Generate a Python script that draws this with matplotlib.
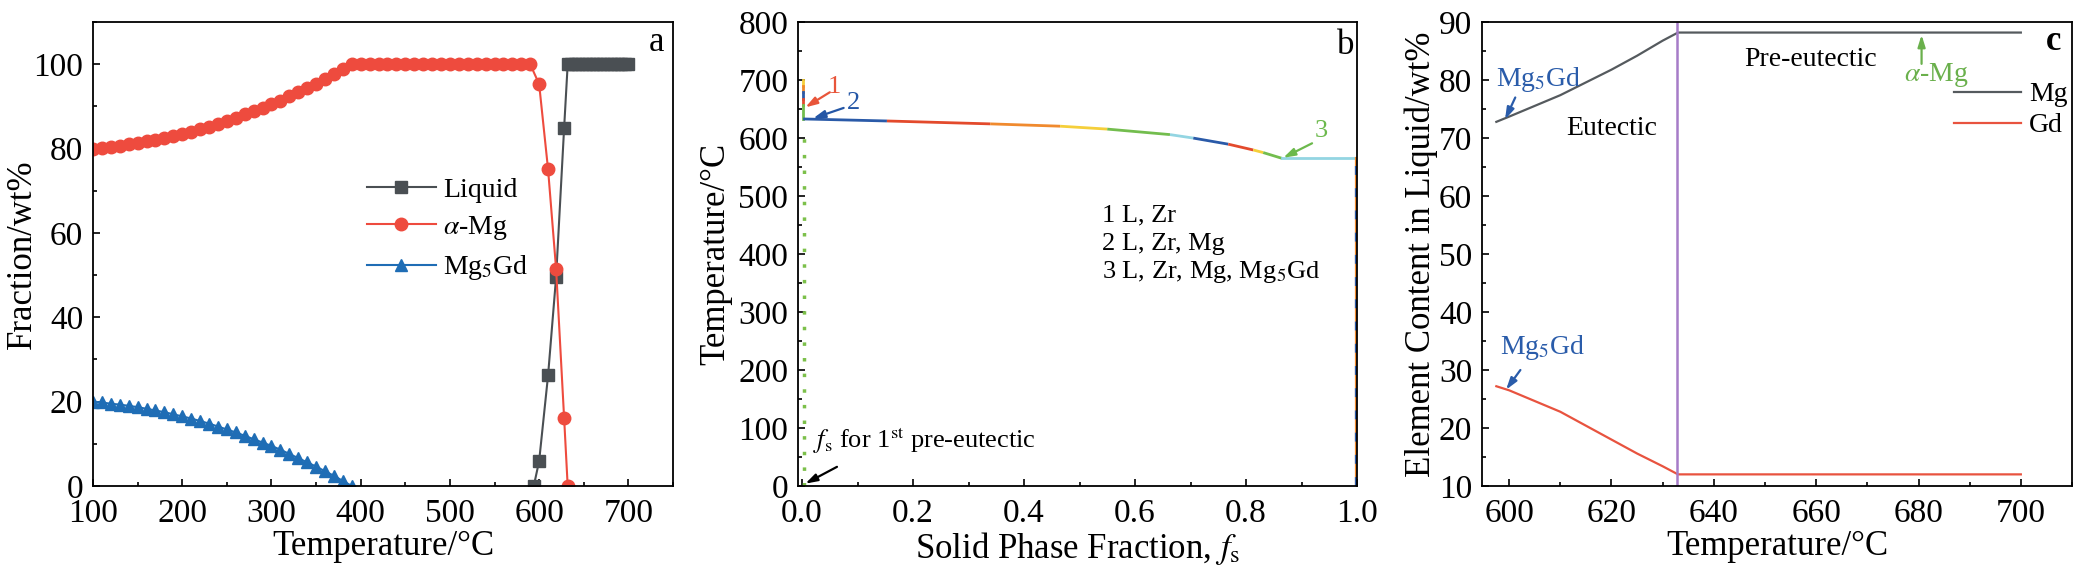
import matplotlib
matplotlib.use('Agg')
import matplotlib.pyplot as plt
from matplotlib.ticker import MultipleLocator

plt.rcParams['font.family'] = ['Liberation Serif', 'DejaVu Serif']
plt.rcParams['mathtext.fontset'] = 'stix'
plt.rcParams['axes.linewidth'] = 1.3

# ---- panel a: phase fractions vs temperature ----
liquid_T = [594, 600, 610, 619, 628, 632, 636, 640, 644, 648, 652, 656, 660, 664,
            668, 672, 676, 680, 684, 688, 692, 696, 700]
liquid_frac = [0, 5.9, 26.2, 49.5, 84.9, 100, 100, 100, 100, 100, 100, 100, 100, 100,
               100, 100, 100, 100, 100, 100, 100, 100, 100]

alpha_T = [100, 110, 120, 130, 140, 150, 160, 170, 180, 190, 200, 210, 220, 230, 240,
           250, 260, 270, 280, 290, 300, 310, 320, 330, 340, 350, 360, 370, 380, 390,
           400, 410, 420, 430, 440, 450, 460, 470, 480, 490, 500, 510, 520, 530, 540,
           550, 560, 570, 580, 590, 600, 610, 619, 628, 632]
alpha_frac = [80.0, 80.2, 80.5, 80.7, 81.0, 81.3, 81.7, 82.1, 82.5, 83.0, 83.5, 84.0,
              84.6, 85.2, 85.9, 86.6, 87.3, 88.1, 88.9, 89.7, 90.5, 91.4, 92.4, 93.4,
              94.4, 95.4, 96.5, 97.6, 98.8, 100, 100, 100, 100, 100, 100, 100, 100, 100,
              100, 100, 100, 100, 100, 100, 100, 100, 100, 100, 100, 100, 95.3, 75.1,
              51.5, 16.1, 0.0]

mg5gd_T = [100, 110, 120, 130, 140, 150, 160, 170, 180, 190, 200, 210, 220, 230, 240,
           250, 260, 270, 280, 290, 300, 310, 320, 330, 340, 350, 360, 370, 380, 390]
mg5gd_frac = [20.0, 19.8, 19.5, 19.3, 19.0, 18.7, 18.3, 17.9, 17.5, 17.0, 16.5, 16.0,
              15.4, 14.8, 14.1, 13.4, 12.7, 11.9, 11.1, 10.3, 9.5, 8.6, 7.6, 6.6, 5.6,
              4.6, 3.5, 2.4, 1.2, 0.0]

# ---- panel b: Scheil solidification path ----
start_T = [700, 690, 680, 668, 657, 633]
start_colors = ['#f5cf3a', '#f08a2e', '#2a5aa8', '#e34a2c', '#73bd4e']
path_fs = [0.002, 0.153, 0.339, 0.465, 0.55, 0.663, 0.705, 0.768, 0.813, 0.831, 0.865]
path_T = [633, 629.5, 624.5, 620.5, 615.5, 606, 600, 589.5, 579.5, 575, 565]
path_colors = ['#2a5aa8', '#e34a2c', '#f08a2e', '#f5cf3a', '#73bd4e', '#93d5e2',
               '#2a5aa8', '#e34a2c', '#f5cf3a', '#73bd4e']
eutectic_T = 565
first_fs_top = 605
phase_lines = ['1 L, Zr', '2 L, Zr, Mg', '3 L, Zr, Mg, Mg$_5$Gd']
phase_line_T = [467, 418, 369.5]

# ---- panel c: liquid composition ----
comp_T = [597.5, 600, 610, 620, 625, 630, 633, 700]
mg_wt = [72.8, 73.7, 77.4, 81.8, 84.2, 86.8, 88.2, 88.2]
gd_wt = [27.2, 26.5, 22.8, 18.0, 15.6, 13.4, 12.0, 12.0]
eutectic_start = 632.8

fig = plt.figure(figsize=(20.78, 5.82), dpi=100)
ax_a = fig.add_axes([0.04475, 0.165, 0.27911, 0.797])
ax_b = fig.add_axes([0.38403, 0.165, 0.26901, 0.797])
ax_c = fig.add_axes([0.71319, 0.165, 0.28393, 0.797])


def style(ax, xmaj, xmin, ymaj, ymin):
    ax.xaxis.set_major_locator(MultipleLocator(xmaj))
    ax.xaxis.set_minor_locator(MultipleLocator(xmin))
    ax.yaxis.set_major_locator(MultipleLocator(ymaj))
    ax.yaxis.set_minor_locator(MultipleLocator(ymin))
    ax.tick_params(which='both', direction='in', top=False, right=False,
                   labelsize=24, width=1.2)
    ax.tick_params(axis='x', which='both', pad=9)
    ax.tick_params(axis='y', which='both', pad=7)
    ax.tick_params(which='major', length=5)
    ax.tick_params(which='minor', length=3)


def arrow(ax, tail, head, color):
    ax.annotate('', xy=head, xytext=tail,
                arrowprops=dict(arrowstyle='-|>,head_length=0.7,head_width=0.22',
                                color=color, lw=1.6, shrinkA=0, shrinkB=0))


# panel a
ax_a.plot(liquid_T, liquid_frac, color='#4a4f53', marker='s', ms=8, lw=1.5, label='Liquid')
ax_a.plot(alpha_T, alpha_frac, color='#ee4b3e', marker='o', ms=9, lw=1.5, label=r'$\alpha$-Mg')
ax_a.plot(mg5gd_T, mg5gd_frac, color='#1f6db5', marker='^', ms=9, lw=1.5, label='Mg$_5$Gd')
ax_a.set_xlim(100, 750)
ax_a.set_ylim(0, 110)
style(ax_a, 100, 50, 20, 10)
ax_a.set_xlabel('Temperature/°C', fontsize=25, labelpad=1)
ax_a.set_ylabel('Fraction/wt%', fontsize=25, labelpad=-4)
ax_a.legend(loc='center left', bbox_to_anchor=(0.472, 0.552), frameon=False, fontsize=20,
            handlelength=2.5, handletextpad=0.25, labelspacing=0.4, borderpad=0,
            borderaxespad=0)
ax_a.text(0.972, 0.955, 'a', transform=ax_a.transAxes, fontsize=25, ha='center', va='center')

# panel b
ax_b.plot([0.003, 0.003], [0, first_fs_top], color='#7cc04a', lw=2.5,
          linestyle=(0, (1, 3.5)))
for i in range(len(start_colors)):
    ax_b.plot([path_fs[0], path_fs[0]], [start_T[i], start_T[i + 1]],
              color=start_colors[i], lw=2)
for i in range(len(path_colors)):
    ax_b.plot(path_fs[i:i + 2], path_T[i:i + 2], color=path_colors[i], lw=2,
              solid_capstyle='butt')
ax_b.plot([path_fs[-1], 1.0], [eutectic_T, eutectic_T], color='#93d5e2', lw=2)
ax_b.plot([0.999, 0.999], [0, eutectic_T], color='#f08a2e', lw=1.6)
ax_b.plot([0.999, 0.999], [0, eutectic_T], color='#2a5aa8', lw=1.6, linestyle=(0, (4, 6)))
ax_b.set_xlim(-0.0072, 1.0)
ax_b.set_ylim(0, 800)
style(ax_b, 0.2, 0.1, 100, 50)
ax_b.set_xlabel(r'Solid Phase Fraction, $f_{\mathrm{s}}$', fontsize=25, labelpad=1)
ax_b.set_ylabel('Temperature/°C', fontsize=25, labelpad=4)
ax_b.text(0.98, 0.95, 'b', transform=ax_b.transAxes, fontsize=25, ha='center', va='center')

ax_b.text(0.059, 688, '1', color='#e8553a', fontsize=19, ha='center', va='center')
arrow(ax_b, (0.05, 679), (0.006, 653), '#e8553a')
ax_b.text(0.093, 661, '2', color='#2456a6', fontsize=19, ha='center', va='center')
arrow(ax_b, (0.075, 652), (0.02, 634), '#2456a6')
ax_b.text(0.935, 612, '3', color='#6cb94c', fontsize=19, ha='center', va='center')
arrow(ax_b, (0.919, 591), (0.867, 566), '#6cb94c')
for i in range(len(phase_lines)):
    ax_b.text(0.540, phase_line_T[i], phase_lines[i], fontsize=19, ha='left', va='center')
ax_b.text(0.02, 78, r'$f_{\mathrm{s}}$ for 1$^{\mathrm{st}}$ pre-eutectic', fontsize=19,
          ha='left', va='center')
arrow(ax_b, (0.063, 33), (0.006, 4), 'black')

# panel c
ax_c.plot(comp_T, mg_wt, color='#555a5e', lw=1.6, label='Mg')
ax_c.plot(comp_T, gd_wt, color='#e8533f', lw=1.6, label='Gd')
ax_c.axvline(eutectic_start, color='#a67cc8', lw=1.8)
ax_c.set_xlim(594.7, 710)
ax_c.set_ylim(10, 90)
style(ax_c, 20, 10, 10, 5)
ax_c.set_xlabel('Temperature/°C', fontsize=25, labelpad=1)
ax_c.set_ylabel('Element Content in Liquid/wt%', fontsize=25, labelpad=0.5)
ax_c.legend(loc='center left', bbox_to_anchor=(0.80, 0.81), frameon=False, fontsize=20,
            handlelength=2.4, handletextpad=0.3, labelspacing=0.2, borderpad=0,
            borderaxespad=0)
ax_c.text(0.968, 0.958, 'c', transform=ax_c.transAxes, fontsize=25, fontweight='bold',
          ha='center', va='center')
ax_c.text(658.8, 83.6, 'Pre-eutectic', fontsize=20, ha='center', va='center')
ax_c.text(620.1, 71.7, 'Eutectic', fontsize=20, ha='center', va='center')
ax_c.text(683.4, 80.8, r'$\alpha$-Mg', color='#6ab04c', fontsize=20, ha='center', va='center')
arrow(ax_c, (680.6, 82.8), (680.6, 87.8), '#6ab04c')
ax_c.text(597.4, 80.1, 'Mg$_5$Gd', color='#2a5caa', fontsize=20, ha='left', va='center')
arrow(ax_c, (601.2, 77.0), (599.2, 73.2), '#2a5caa')
ax_c.text(598.2, 33.8, 'Mg$_5$Gd', color='#2a5caa', fontsize=20, ha='left', va='center')
arrow(ax_c, (602.2, 30.0), (599.4, 26.6), '#2a5caa')

fig.savefig('out.png', dpi=100)
